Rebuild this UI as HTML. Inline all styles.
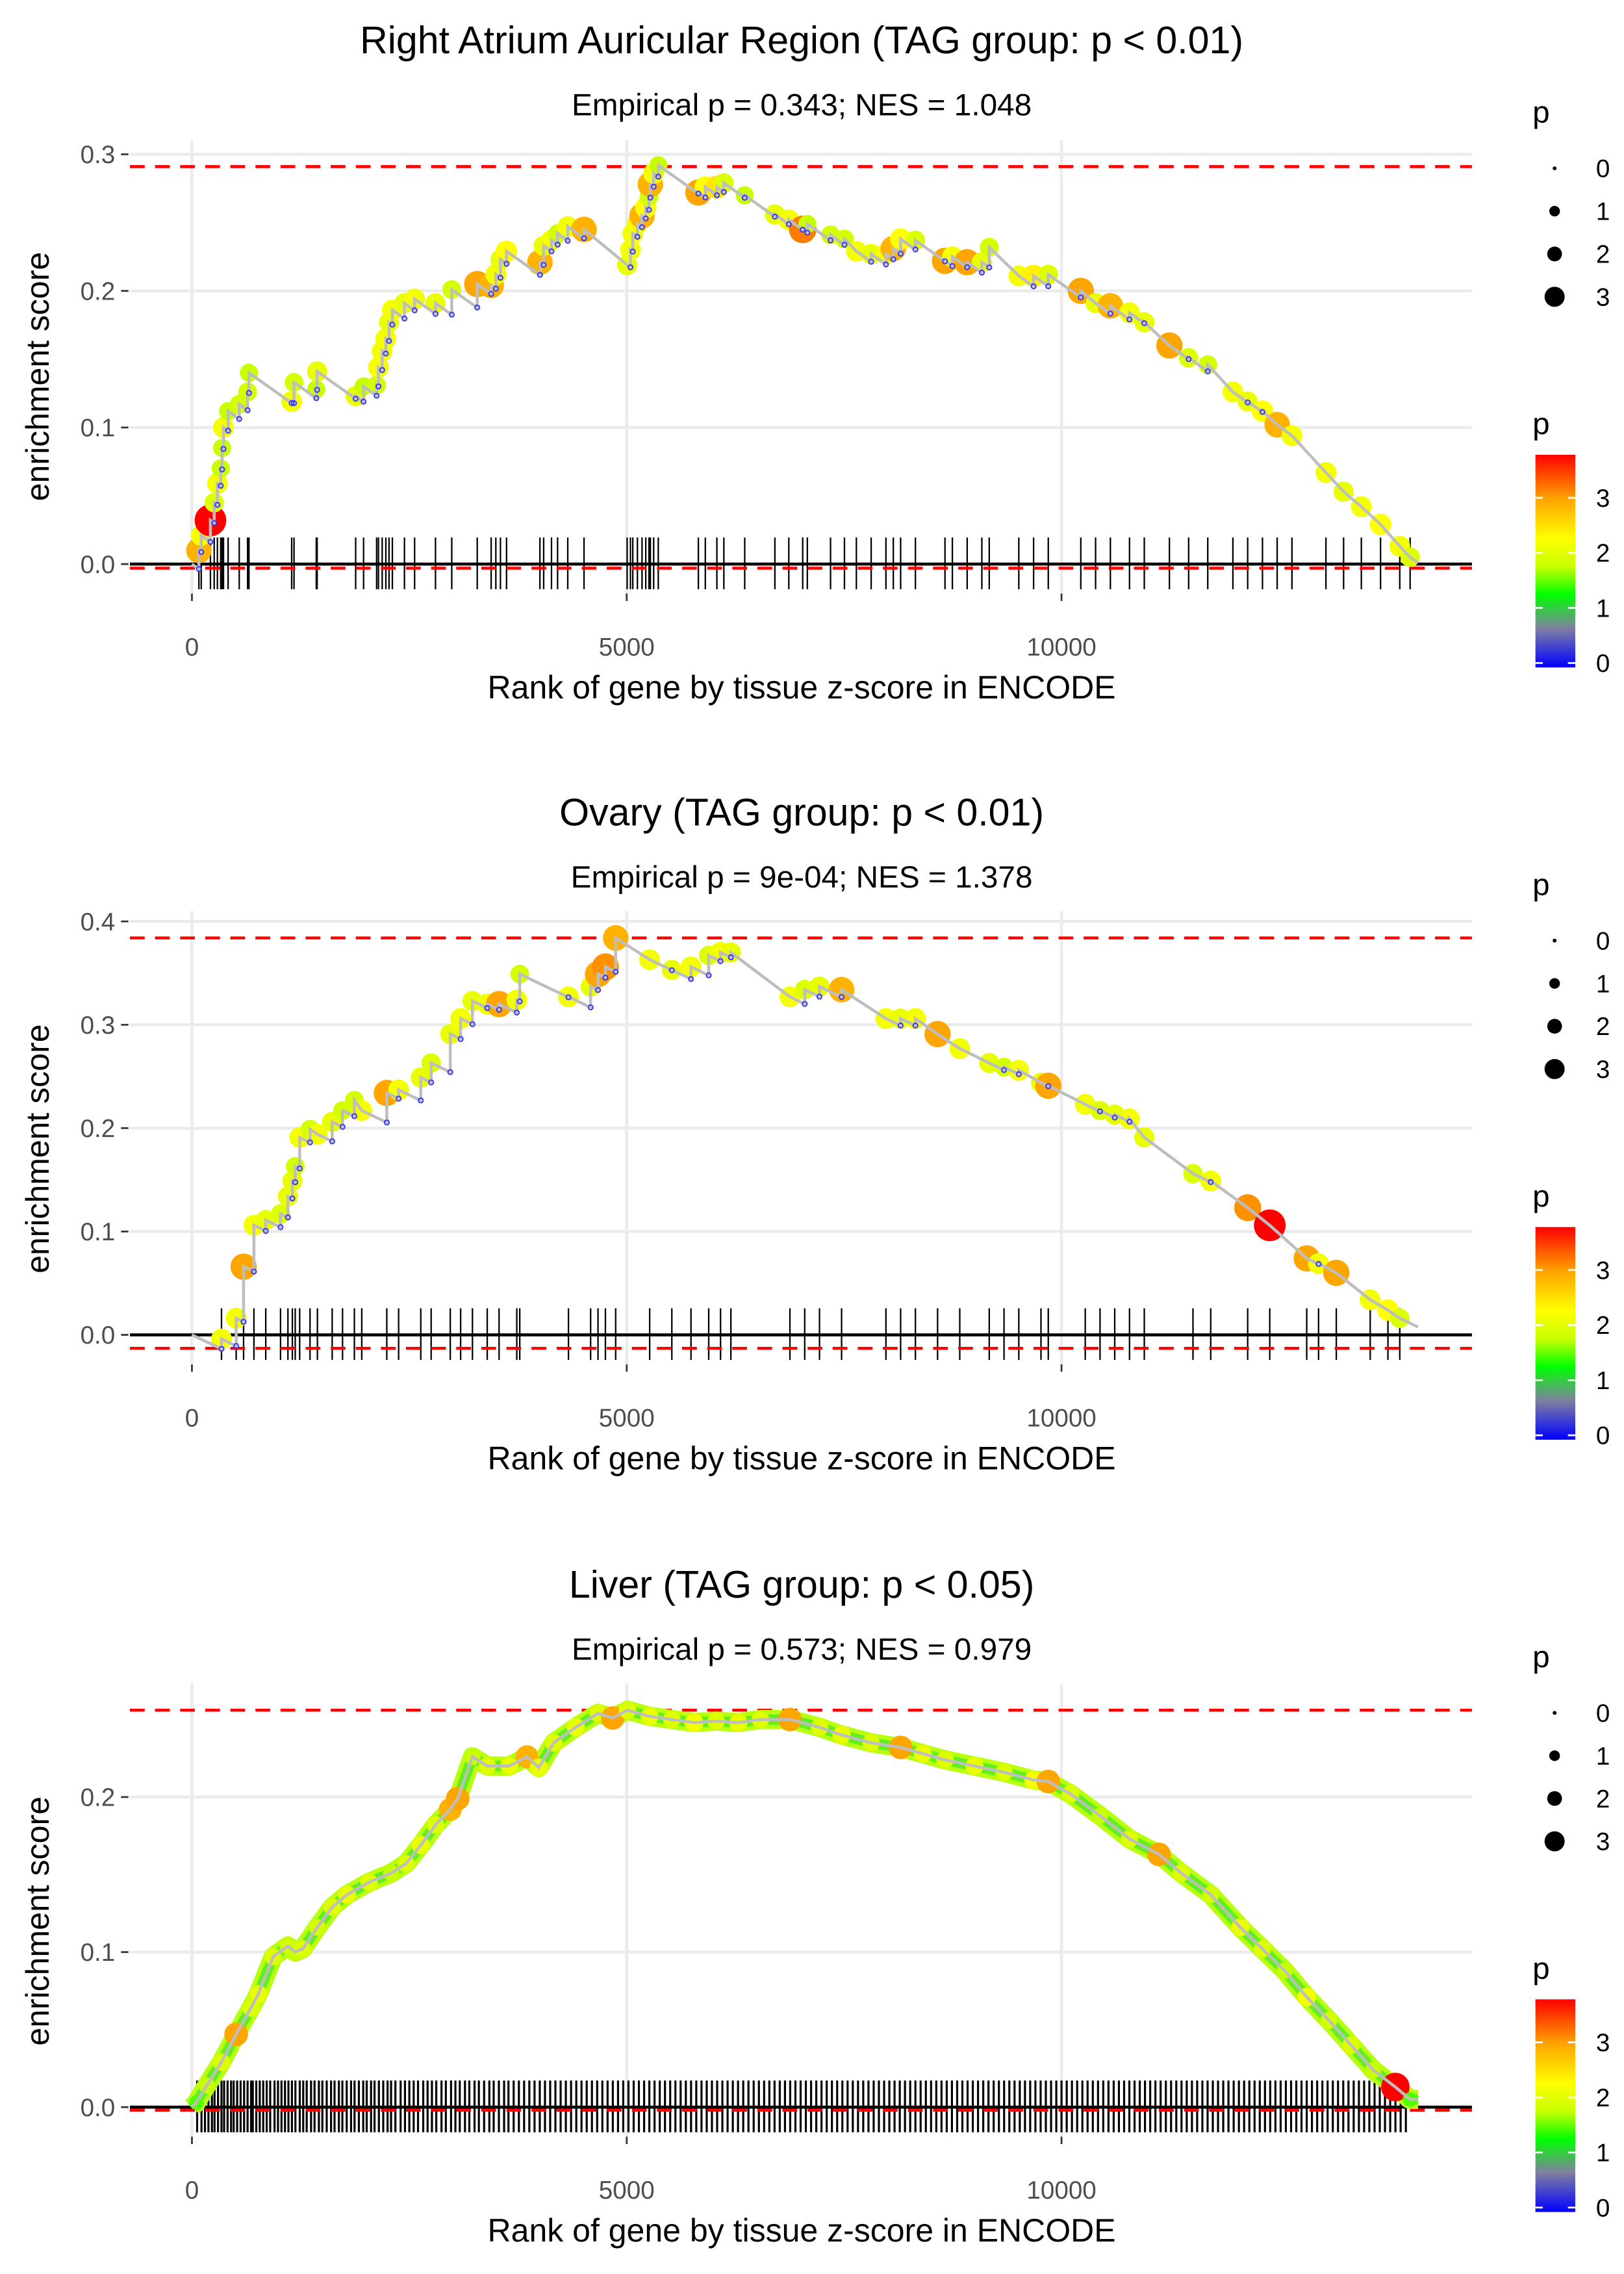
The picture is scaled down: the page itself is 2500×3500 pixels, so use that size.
<!DOCTYPE html>
<html><head><meta charset="utf-8">
<style>
html,body{margin:0;padding:0;background:#fff;}
svg{display:block;font-family:"Liberation Sans",sans-serif;}
</style></head>
<body>
<svg id="chart" width="2500" height="3500" viewBox="0 0 1100 1540" xmlns="http://www.w3.org/2000/svg"></svg>
<script>
// ---------- DATA ----------
const p1Titles = ["Right Atrium Auricular Region (TAG group: p < 0.01)", "Empirical p = 0.343; NES = 1.048"];
const p1Ranks = [80,107,213,256,293,331,347,363,416,544,640,656,1147,1174,1430,1440,1883,1974,2124,2145,2188,2230,2267,2305,2444,2561,2801,2988,3281,3441,3495,3548,3618,4002,4045,4135,4205,4322,4509,5005,5043,5070,5123,5176,5219,5256,5272,5310,5363,5824,5904,6037,6117,6357,6704,6864,7024,7077,7344,7504,7641,7811,7981,8066,8150,8320,8660,8745,8915,9084,9169,9509,9679,9848,10222,10392,10562,10782,10952,11241,11462,11682,11971,12141,12311,12480,12650,13041,13244,13448,13669,13890,14009];
const p1ES = [0.010,0.021,0.032,0.045,0.059,0.070,0.085,0.100,0.112,0.117,0.126,0.140,0.119,0.133,0.128,0.141,0.123,0.130,0.131,0.144,0.156,0.165,0.177,0.186,0.191,0.194,0.191,0.201,0.205,0.204,0.212,0.223,0.229,0.221,0.233,0.237,0.242,0.247,0.245,0.219,0.230,0.242,0.249,0.255,0.261,0.269,0.278,0.286,0.292,0.272,0.276,0.276,0.279,0.270,0.256,0.252,0.245,0.249,0.241,0.238,0.229,0.227,0.227,0.231,0.238,0.237,0.222,0.225,0.221,0.221,0.232,0.211,0.211,0.212,0.200,0.191,0.189,0.184,0.177,0.160,0.151,0.146,0.126,0.119,0.112,0.102,0.094,0.067,0.053,0.042,0.029,0.013,0.005];
const p1P = [2.9,2.2,3.8,2.0,2.2,1.8,1.8,2.2,1.8,1.9,1.9,1.8,2.2,1.9,1.8,2.1,2.1,1.8,1.9,2.2,2.2,2.2,2.1,2.2,2.1,2.2,2.1,1.9,3.0,2.9,2.2,2.1,2.3,2.9,2.1,2.2,1.9,2.2,2.9,2.1,2.2,2.2,2.2,2.9,2.3,1.9,2.9,2.2,1.8,3.0,2.3,2.5,2.0,1.8,2.1,2.2,3.2,1.8,1.9,1.9,2.2,2.1,2.2,2.9,2.3,2.0,3.0,2.2,3.0,2.1,1.9,2.2,2.4,2.0,3.0,2.1,2.9,2.2,2.1,3.0,2.0,1.9,2.2,2.1,2.3,2.9,2.2,2.2,2.1,2.2,2.3,2.2,2.0];
const p1Ticks = [0.0,0.1,0.2,0.3];
const p1Max = 0.291, p1Min = -0.003;

const p2Titles = ["Ovary (TAG group: p < 0.01)", "Empirical p = 9e-04; NES = 1.378"];
const p2Ranks = [340,509,594,713,849,1019,1104,1155,1188,1239,1358,1443,1613,1732,1868,1953,2241,2377,2632,2751,2971,3090,3226,3396,3532,3736,3770,4330,4585,4670,4755,4873,5264,5519,5739,5943,6079,6198,6877,7047,7217,7471,7981,8150,8320,8575,8830,9169,9339,9509,9764,9848,10273,10443,10612,10782,10952,11512,11716,12141,12395,12820,12956,13160,13550,13754,13890];
const p2ES = [-0.004,0.016,0.066,0.106,0.111,0.117,0.134,0.149,0.163,0.191,0.199,0.194,0.206,0.217,0.227,0.217,0.234,0.237,0.249,0.263,0.291,0.306,0.323,0.320,0.320,0.324,0.349,0.327,0.337,0.349,0.356,0.384,0.363,0.353,0.356,0.367,0.370,0.370,0.327,0.334,0.337,0.334,0.306,0.306,0.306,0.291,0.277,0.263,0.259,0.256,0.244,0.241,0.223,0.217,0.213,0.209,0.191,0.156,0.149,0.123,0.106,0.074,0.069,0.060,0.034,0.024,0.016];
const p2P = [2.2,2.2,3.0,2.2,2.1,2.0,2.1,2.1,1.9,2.2,1.9,2.2,2.1,1.9,1.9,2.2,3.0,2.2,2.1,2.0,2.1,2.2,2.1,2.2,3.0,2.2,1.9,2.2,2.1,3.0,3.1,2.9,2.2,2.1,2.2,2.0,2.2,2.1,2.2,2.0,2.1,2.9,2.2,2.1,2.2,3.0,2.2,2.1,1.9,2.2,2.1,3.0,2.2,2.0,2.1,2.2,2.1,2.0,2.2,3.1,3.8,3.0,2.2,3.0,2.2,2.3,2.0];
const p2Ticks = [0.0,0.1,0.2,0.3,0.4];
const p2Max = 0.384, p2Min = -0.013;

const p3Titles = ["Liver (TAG group: p < 0.05)", "Empirical p = 0.573; NES = 0.979"];
const p3Ranks = [51,170,340,509,679,764,934,1104,1188,1273,1443,1613,1783,2037,2292,2462,2632,2801,2971,3056,3226,3396,3650,3854,3990,4160,4415,4670,4839,5009,5264,5519,5773,6028,6283,6537,6877,7217,7471,7811,8150,8405,8660,8999,9339,9679,9848,10103,10443,10782,11122,11377,11716,12056,12311,12566,12820,13075,13330,13584,13839,14009];
const p3ES = [0.003,0.014,0.029,0.047,0.064,0.073,0.097,0.104,0.100,0.102,0.116,0.129,0.137,0.145,0.151,0.157,0.169,0.182,0.192,0.199,0.226,0.220,0.220,0.226,0.219,0.235,0.245,0.254,0.251,0.256,0.252,0.250,0.248,0.249,0.248,0.250,0.250,0.245,0.240,0.235,0.232,0.228,0.224,0.220,0.216,0.211,0.210,0.202,0.188,0.173,0.163,0.151,0.137,0.116,0.102,0.088,0.071,0.056,0.040,0.024,0.013,0.005];
const p3P = [1.5,1.8,2.0,3.0,2.0,2.1,2.0,1.9,1.8,2.0,1.9,2.0,2.1,2.0,1.8,2.0,2.1,2.0,2.9,3.0,1.8,2.0,2.1,2.9,2.1,2.0,2.1,2.0,3.0,2.0,2.1,2.0,2.2,2.0,2.1,2.0,3.0,2.0,2.1,2.0,3.0,2.1,2.0,2.1,2.0,2.2,3.0,2.0,1.8,2.0,3.0,2.0,1.9,2.1,2.0,1.8,2.2,1.9,2.0,1.8,3.8,1.5];
const p3Rug = [60,110,150,190,230,260,300,340,370,410,450,480,520,560,600,640,680,700,740,780,820,860,900,950,990,1030,1070,1110,1150,1190,1240,1280,1320,1370,1410,1460,1500,1550,1600,1640,1690,1730,1780,1830,1870,1920,1970,2010,2060,2100,2150,2200,2250,2290,2340,2400,2450,2500,2550,2600,2660,2710,2760,2810,2870,2920,2980,3030,3080,3140,3190,3250,3300,3360,3420,3470,3530,3590,3640,3700,3760,3820,3880,3940,4000,4060,4120,4180,4240,4300,4360,4420,4480,4540,4600,4660,4720,4780,4840,4900,4960,5020,5080,5140,5200,5260,5320,5380,5440,5500,5560,5620,5680,5740,5800,5860,5920,5980,6040,6100,6160,6220,6280,6340,6400,6460,6520,6580,6640,6700,6760,6820,6880,6940,7000,7060,7120,7180,7240,7300,7360,7420,7480,7540,7600,7660,7720,7780,7840,7900,7960,8020,8080,8140,8200,8260,8320,8380,8440,8500,8560,8620,8680,8740,8800,8860,8920,8980,9040,9100,9160,9220,9280,9340,9400,9460,9520,9580,9640,9700,9760,9820,9880,9940,10000,10060,10120,10180,10240,10300,10360,10420,10480,10540,10600,10660,10720,10780,10840,10900,10960,11020,11080,11140,11200,11260,11320,11380,11440,11500,11560,11620,11680,11740,11800,11860,11920,11980,12040,12100,12160,12220,12280,12340,12400,12460,12520,12580,12640,12700,12760,12820,12880,12940,13000,13060,13120,13180,13240,13300,13360,13420,13480,13540,13600,13660,13720,13780,13840,13900,13960];
const p3Ticks = [0.0,0.1,0.2];
const p3Max = 0.256, p3Min = -0.002;

const xTicks = [0,5000,10000];
const xTickLabels = ["0","5000","10000"];
const legendSizes = [0,1,2,3];
const colorbarTicks = [0,1,2,3];

// ---------- RENDERING ----------
const NS = "http://www.w3.org/2000/svg";
const svg = document.getElementById("chart");
function mk(tag, attrs, parent, text){
  const e = document.createElementNS(NS, tag);
  for (const k in attrs) e.setAttribute(k, attrs[k]);
  if (text !== undefined) e.textContent = text;
  (parent || svg).appendChild(e);
  return e;
}
const stops = [[0,[0,0,255]],[0.7,[128,128,160]],[1.3,[0,255,0]],[1.8,[200,255,0]],[2.3,[255,255,0]],[3.0,[255,165,0]],[3.8,[255,0,0]]];
function pColor(p){
  if (p <= stops[0][0]) return "rgb(0,0,255)";
  for (let i=1;i<stops.length;i++){
    if (p <= stops[i][0]){
      const a=stops[i-1], b=stops[i], t=(p-a[0])/(b[0]-a[0]);
      const c=a[1].map((v,j)=>Math.round(v+(b[1][j]-v)*t));
      return "rgb("+c.join(",")+")";
    }
  }
  return "rgb(255,0,0)";
}
function pRadius(p){ return 2 + 2.3*p; }
const X0 = 130, XPER = 294.5/5000, PLOTL = 88, PLOTR = 997;
function xs(r){ return X0 + r*XPER; }

const panels = [
  {off:0, titles:p1Titles, ranks:p1Ranks, es:p1ES, p:p1P, ticks:p1Ticks, max:p1Max, min:p1Min, y0:382, yPer:925, top:95, slope:0.000045, rug:p1Ranks, rugW:1},
  {off:523, titles:p2Titles, ranks:p2Ranks, es:p2ES, p:p2P, ticks:p2Ticks, max:p2Max, min:p2Min, y0:904, yPer:700, top:617, slope:0.00004, rug:p2Ranks, rugW:1},
  {off:1046, titles:p3Titles, ranks:p3Ranks, es:p3ES, p:p3P, ticks:p3Ticks, max:p3Max, min:p3Min, y0:1427, yPer:1050, top:1140, slope:0, rug:p3Rug, rugW:1.4}
];

panels.forEach((P, pi) => {
  const g = mk("g", {});
  
  
  const ys = v => P.y0 - v*P.yPer;
  const bottom = P.y0 + 20;
  const t = mk("text", {x:543, y:36+P.off, "text-anchor":"middle", "font-size":"26", fill:"#000"}, g, P.titles[0]);
  
  
  const st = mk("text", {x:543, y:78+P.off, "text-anchor":"middle", "font-size":"21", fill:"#000"}, g, P.titles[1]);
  
  
  P.ticks.forEach(v => {
    const gl = mk("line", {x1:PLOTL, x2:PLOTR, y1:ys(v), y2:ys(v), stroke:"#ebebeb", "stroke-width":"2"}, g);
    
    
    const tk = mk("line", {x1:82, x2:87, y1:ys(v), y2:ys(v), stroke:"#333", "stroke-width":"1.2"}, g);
    
    
    const lb = mk("text", {x:78, y:ys(v)+6, "text-anchor":"end", "font-size":"17", fill:"#4d4d4d"}, g, v.toFixed(1));
    
    
  });
  xTicks.forEach((v,i) => {
    const gl = mk("line", {x1:xs(v), x2:xs(v), y1:P.top, y2:bottom, stroke:"#ebebeb", "stroke-width":"2"}, g);
    
    
    const tk = mk("line", {x1:xs(v), x2:xs(v), y1:bottom, y2:bottom+5, stroke:"#333", "stroke-width":"1.2"}, g);
    
    
    const lb = mk("text", {x:xs(v), y:P.y0+62, "text-anchor":"middle", "font-size":"17", fill:"#4d4d4d"}, g, xTickLabels[i]);
    
    
  });
  const xt = mk("text", {x:543, y:P.y0+91, "text-anchor":"middle", "font-size":"22", fill:"#000"}, g, "Rank of gene by tissue z-score in ENCODE");
  
  
  const ycy = 255 + P.off;
  const yt = mk("text", {x:33, y:ycy, "text-anchor":"middle", "font-size":"22", fill:"#000", transform:"rotate(-90 33 "+ycy+")"}, g, "enrichment score");
  
  
  P.rug.forEach(r => {
    const l = mk("line", {x1:xs(r), x2:xs(r), y1:P.y0-18, y2:P.y0+17, stroke:"#000", "stroke-width":P.rugW}, g);
    
    
  });
  const zl = mk("line", {x1:PLOTL, x2:PLOTR, y1:P.y0, y2:P.y0, stroke:"#000", "stroke-width":"2"}, g);
  
  
  const dmax = mk("line", {x1:PLOTL, x2:PLOTR, y1:ys(P.max), y2:ys(P.max), stroke:"#ff0000", "stroke-width":"2", "stroke-dasharray":"10,7"}, g);
  
  
  const dmin = mk("line", {x1:PLOTL, x2:PLOTR, y1:ys(P.min), y2:ys(P.min), stroke:"#ff0000", "stroke-width":"2", "stroke-dasharray":"10,7"}, g);
  
  
  let pts = [[xs(0), ys(0)]];
  const pre = [];
  let pr = 0, pe = 0;
  P.ranks.forEach((r,i) => {
    const before = pe - P.slope*(r-pr);
    if (P.slope > 0 && before < P.es[i]) { pts.push([xs(r), ys(before)]); pre.push([xs(r), ys(before)]); }
    pts.push([xs(r), ys(P.es[i])]);
    pr = r; pe = P.es[i];
  });
  const endR = 14100;
  pts.push([xs(endR), ys(Math.max(pe - P.slope*(endR-pr), 0))]);
  if (pi === 2) {
    const under = mk("polyline", {points:pts.map(q=>q.join(",")).join(" "), fill:"none", stroke:"#b8ff10", "stroke-width":"13", "stroke-linejoin":"round"}, g);
    
    
    const under2 = mk("polyline", {points:pts.map(q=>q.join(",")).join(" "), fill:"none", stroke:"#60f020", "stroke-width":"7", "stroke-linejoin":"round"}, g);
    
    
  }
  P.ranks.forEach((r,i) => {
    const c = mk("circle", {cx:xs(r), cy:ys(P.es[i]), r:pRadius(P.p[i]) * (pi===2?0.9:1), fill:pColor(P.p[i])}, g);
    
    
  });
  const line = mk("polyline", {points:pts.map(q=>q.join(",")).join(" "), fill:"none", stroke:"#bebebe", "stroke-width":"2"}, g);
  
  
  pre.forEach(q => {
    const c = mk("circle", {cx:q[0], cy:q[1], r:1.6, fill:"none", stroke:"#3030ff", "stroke-width":"0.8"}, g);
    
    
  });
  const lg = mk("g", {}, g);
  
  
  mk("text", {x:1038, y:83+P.off, "font-size":"21", fill:"#000"}, lg, "p");
  legendSizes.forEach((v,i) => {
    const cy = 114 + i*29 + P.off;
    const c = mk("circle", {cx:1053, cy:cy, r:[1.3,3.6,5,6.8][i], fill:"#000"}, lg);
    
    
    mk("text", {x:1081, y:cy+6, "font-size":"17", fill:"#000"}, lg, String(v));
  });
  const cg = mk("g", {}, g);
  
  
  mk("text", {x:1038, y:294+P.off, "font-size":"21", fill:"#000"}, cg, "p");
  const gid = "grad" + pi;
  const defs = mk("defs", {}, cg);
  const lgd = mk("linearGradient", {id:gid, x1:"0", y1:"1", x2:"0", y2:"0"}, defs);
  stops.forEach(s => mk("stop", {offset:(s[0]/3.8), "stop-color":pColor(s[0])}, lgd));
  const cb = mk("rect", {x:1040, y:308+P.off, width:27, height:144, fill:"url(#"+gid+")"}, cg);
  
  
  colorbarTicks.forEach(v => {
    const y = 449 - v*37.3 + P.off;
    mk("line", {x1:1040, x2:1045, y1:y, y2:y, stroke:"#fff", "stroke-width":"1.2"}, cg);
    mk("line", {x1:1062, x2:1067, y1:y, y2:y, stroke:"#fff", "stroke-width":"1.2"}, cg);
    mk("text", {x:1081, y:y+6, "font-size":"17", fill:"#000"}, cg, String(v));
  });
});
</script>
</body></html>
